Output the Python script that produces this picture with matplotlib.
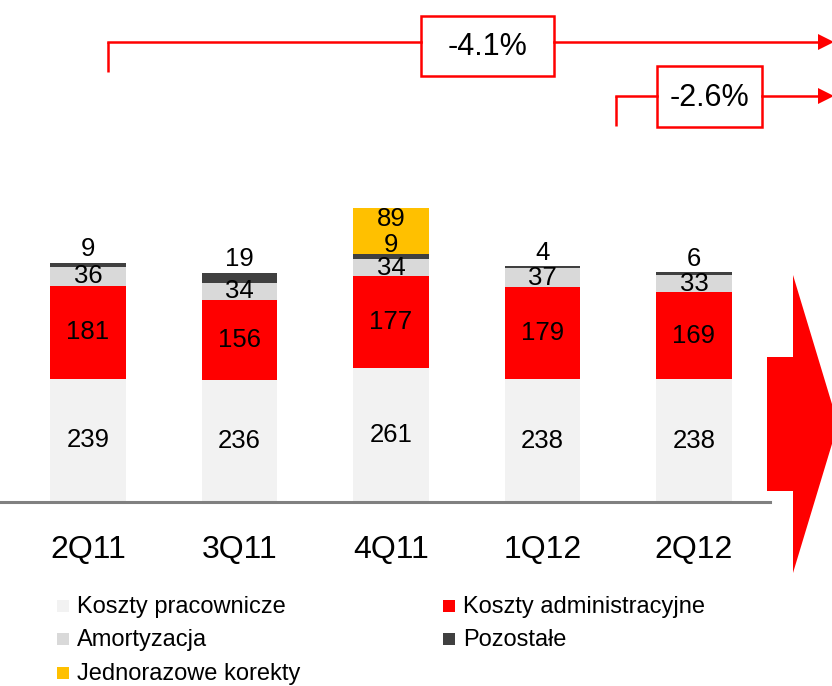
import numpy as np
import matplotlib
matplotlib.use("Agg")
import matplotlib.pyplot as plt
from matplotlib.patches import Rectangle, Polygon

plt.rcParams['font.family'] = ['Liberation Sans', 'DejaVu Sans']

# --- dane ---
kwartaly = ['2Q11', '3Q11', '4Q11', '1Q12', '2Q12']
pracownicze = [239, 236, 261, 238, 238]
administracyjne = [181, 156, 177, 179, 169]
amortyzacja = [36, 34, 34, 37, 33]
pozostale = [9, 19, 9, 4, 6]
jednorazowe = [0, 0, 89, 0, 0]

seria = ['Koszty pracownicze', 'Koszty administracyjne', 'Amortyzacja',
         'Pozostałe', 'Jednorazowe korekty']
kolory = ['#F2F2F2', '#FF0000', '#D9D9D9', '#404040', '#FFC000']

zmiana_calosc = '-4.1%'
zmiana_kw = '-2.6%'

W, H = 832, 686
fig = plt.figure(figsize=(W / 100, H / 100), dpi=100)

# --- wykres słupkowy ---
ax = fig.add_axes([0, (H - 502) / H, 770 / W, 502 / H])
x = np.arange(len(kwartaly))
dane = [pracownicze, administracyjne, amortyzacja, pozostale, jednorazowe]
dol = np.zeros(len(kwartaly))
for i, (vals, kol) in enumerate(zip(dane, kolory)):
    vals = np.array(vals, dtype=float)
    ax.bar(x, vals, bottom=dol, width=0.5, color=kol, linewidth=0)
    for j, v in enumerate(vals):
        if v == 0:
            continue
        if i == 3:
            # nad słupkiem; w 4Q11 nachodzi na żółty segment jak w oryginale
            dy = -2 if jednorazowe[j] else 1
            ax.annotate(f"{int(v)}", (x[j], dol[j] + v), xytext=(0, dy),
                        textcoords='offset points', ha='center', va='bottom',
                        fontsize=18.5)
        elif i == 4:
            ax.annotate(f"{int(v)}", (x[j], dol[j] + v / 2), xytext=(0, 9),
                        textcoords='offset points', ha='center', va='center',
                        fontsize=18.5)
        else:
            ax.text(x[j], dol[j] + v / 2, f"{int(v)}", ha='center',
                    va='center', fontsize=18.5)
    dol += vals

ax.set_xlim(-88 / 151.5, (770 - 88) / 151.5)
ax.set_ylim(0, 502 / 0.515)
ax.axhline(0, color='#808080', lw=2.2, clip_on=False)
for s in ax.spines.values():
    s.set_visible(False)
ax.set_yticks([])
ax.set_xticks(x, kwartaly, fontsize=23)
ax.tick_params(axis='x', length=0, pad=24)

# --- nakładka: strzałki i legenda (współrzędne w pikselach) ---
ov = fig.add_axes([0, 0, 1, 1], zorder=5)
ov.set_xlim(0, W)
ov.set_ylim(H, 0)
ov.axis('off')
ov.patch.set_alpha(0)

red = '#FF0000'


def strzalka(x0, y0, xb0, xb1, yb0, yb1, tekst, ytick_end):
    ov.plot([x0, x0], [y0, ytick_end], color=red, lw=1.8, solid_capstyle='butt')
    ov.plot([x0, xb0], [y0, y0], color=red, lw=1.8)
    ov.plot([xb1, 820], [y0, y0], color=red, lw=1.8)
    ov.add_patch(Polygon([[818, y0 - 8], [834, y0], [818, y0 + 8]],
                         closed=True, color=red, lw=0))
    ov.add_patch(Rectangle((xb0, yb0), xb1 - xb0, yb1 - yb0, fill=True,
                           facecolor='white', edgecolor=red, lw=1.8))
    ov.text((xb0 + xb1) / 2, (yb0 + yb1) / 2 + 1, tekst, ha='center',
            va='center', fontsize=22)


strzalka(108, 42, 421, 554, 16, 76, zmiana_calosc, 72)
strzalka(616, 96, 657, 762, 66, 127, zmiana_kw, 126)

# duża strzałka
ov.add_patch(Polygon([[767, 357], [793, 357], [793, 275], [838, 424],
                      [793, 573], [793, 491], [767, 491]],
                     closed=True, color=red, lw=0))

# legenda
poz = [(57, 606), (443, 606), (57, 639), (443, 639), (57, 673)]
for (lx, ly), k in zip(poz, range(len(seria))):
    ov.add_patch(Rectangle((lx, ly - 6), 12, 12, color=kolory[k], lw=0))
    ov.text(lx + 20, ly + 1, seria[k], ha='left', va='center', fontsize=17)

fig.savefig('out.png', dpi=100)
